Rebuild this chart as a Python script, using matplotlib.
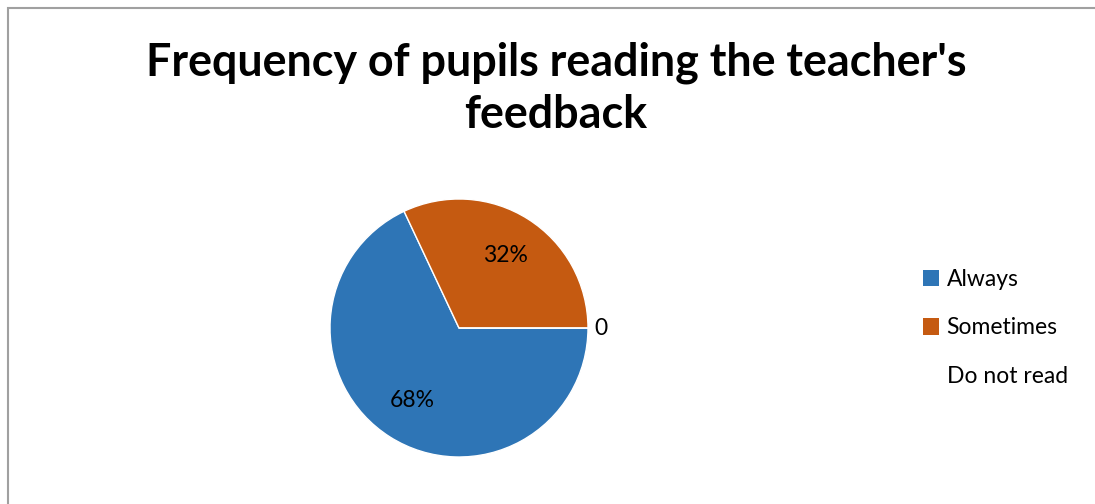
import matplotlib
matplotlib.use("Agg")
import matplotlib.pyplot as plt
from matplotlib.patches import Rectangle, Patch

plt.rcParams["font.family"] = ["Lato", "DejaVu Sans"]

categories = ["Always", "Sometimes", "Do not read"]
values = [68, 32, 0]
colors = ["#2E75B6", "#C55A11", "#FFFFFF"]
title = "Frequency of pupils reading the teacher's\nfeedback"

W, H = 1095, 504
fig = plt.figure(figsize=(W / 100, H / 100), dpi=100)

# outer chart border
fig.patches.append(Rectangle((7.5 / W, -0.01), 1.1, (H - 7.5) / H + 0.01,
                             transform=fig.transFigure, fill=False,
                             edgecolor="#A0A0A0", linewidth=1.5))

fig.text(556 / W, 1 - 89 / H, title, ha="center", va="center",
         fontsize=32.3, fontweight="bold", linespacing=1.3)

# pie area
cx, cy, r = 459, 328, 129
ax = fig.add_axes([(cx - r) / W, (H - cy - r) / H, 2 * r / W, 2 * r / H])


def pct(p):
    return "" if p < 0.5 else f"{p:.0f}%"


wedges, texts, autotexts = ax.pie(
    values, colors=colors, startangle=0, counterclock=False,
    labels=["", "", "0"], labeldistance=1.1, autopct=pct, pctdistance=0.67,
    wedgeprops=dict(linewidth=1, edgecolor="white"),
    textprops=dict(fontsize=16.5, color="black"),
)
for t in texts:
    t.set_ha("center")
ax.set_xlim(-1, 1)
ax.set_ylim(-1, 1)

handles = [Patch(facecolor=c, edgecolor="none") for c in colors]
fig.legend(handles, categories, loc="center left",
           bbox_to_anchor=(902 / W, 1 - 328 / H), frameon=False,
           fontsize=16.5, handlelength=0.7, handleheight=0.7,
           handletextpad=0.35, labelspacing=1.2)

fig.savefig("out.png", dpi=100)
